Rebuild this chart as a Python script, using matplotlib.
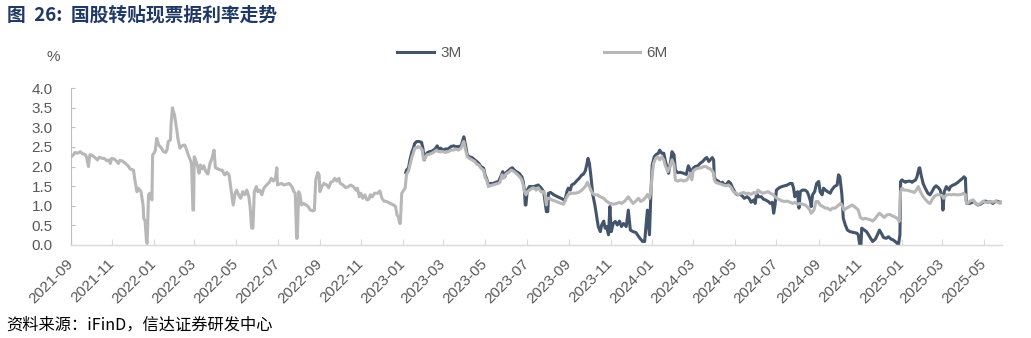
import matplotlib
matplotlib.use("Agg")
import matplotlib.pyplot as plt
import matplotlib.dates as mdates
import pandas as pd

plt.rcParams["font.family"] = ["Liberation Sans", "Noto Sans CJK SC", "DejaVu Sans"]

TITLE = "图  26:  国股转贴现票据利率走势"
SOURCE = "资料来源：iFinD，信达证券研发中心"
Y_UNIT = "%"
SERIES_NAMES = ["3M", "6M"]
Y_TICKS = [0.0, 0.5, 1.0, 1.5, 2.0, 2.5, 3.0, 3.5, 4.0]
X_START = "2021-09-01"
X_END = "2025-05-27"

dates_6m = [
    "2021-09-01", "2021-09-05", "2021-09-07", "2021-09-11", "2021-09-15", "2021-09-18", "2021-09-22", "2021-09-24",
    "2021-09-27", "2021-09-29", "2021-10-01", "2021-10-06", "2021-10-10", "2021-10-13", "2021-10-17", "2021-10-20",
    "2021-10-24", "2021-10-27", "2021-10-29", "2021-10-31", "2021-11-04", "2021-11-07", "2021-11-10", "2021-11-12",
    "2021-11-16", "2021-11-20", "2021-11-24", "2021-11-27", "2021-12-02", "2021-12-04", "2021-12-07", "2021-12-09",
    "2021-12-13", "2021-12-16", "2021-12-17", "2021-12-19", "2021-12-21", "2021-12-22", "2021-12-24", "2021-12-26",
    "2021-12-29", "2021-12-30",
    "2022-01-01", "2022-01-03", "2022-01-05", "2022-01-08", "2022-01-12", "2022-01-15", "2022-01-18", "2022-01-20",
    "2022-01-22", "2022-01-25", "2022-01-26", "2022-01-28", "2022-01-31", "2022-02-03", "2022-02-05", "2022-02-08",
    "2022-02-11", "2022-02-15", "2022-02-17", "2022-02-20", "2022-02-23", "2022-02-25", "2022-02-27", "2022-02-28",
    "2022-03-01", "2022-03-03", "2022-03-06", "2022-03-08", "2022-03-10", "2022-03-13", "2022-03-15", "2022-03-18",
    "2022-03-21", "2022-03-24", "2022-03-27", "2022-03-30", "2022-04-01", "2022-04-05", "2022-04-08", "2022-04-11",
    "2022-04-14", "2022-04-15", "2022-04-18", "2022-04-21", "2022-04-24", "2022-04-27", "2022-04-30", "2022-05-02",
    "2022-05-05", "2022-05-08", "2022-05-11", "2022-05-14", "2022-05-17", "2022-05-20", "2022-05-22", "2022-05-24",
    "2022-05-26", "2022-05-28", "2022-05-31", "2022-06-02", "2022-06-05", "2022-06-08", "2022-06-11", "2022-06-15",
    "2022-06-19", "2022-06-22", "2022-06-25", "2022-06-28", "2022-06-30", "2022-07-01", "2022-07-03", "2022-07-07",
    "2022-07-10", "2022-07-14", "2022-07-18", "2022-07-22", "2022-07-25", "2022-07-27", "2022-07-29", "2022-07-30",
    "2022-08-01", "2022-08-03", "2022-08-05", "2022-08-08", "2022-08-12", "2022-08-15", "2022-08-18", "2022-08-22",
    "2022-08-24", "2022-08-26", "2022-08-29", "2022-08-31", "2022-09-01", "2022-09-04", "2022-09-07", "2022-09-11",
    "2022-09-14", "2022-09-17", "2022-09-20", "2022-09-23", "2022-09-26", "2022-09-29", "2022-10-01", "2022-10-05",
    "2022-10-09", "2022-10-13", "2022-10-16", "2022-10-20", "2022-10-24", "2022-10-26", "2022-10-29", "2022-10-31",
    "2022-11-03", "2022-11-06", "2022-11-09", "2022-11-12", "2022-11-14", "2022-11-17", "2022-11-20", "2022-11-25",
    "2022-11-28", "2022-12-01", "2022-12-04", "2022-12-08", "2022-12-13", "2022-12-18", "2022-12-21", "2022-12-23",
    "2022-12-25", "2022-12-27", "2022-12-28", "2022-12-30",
    "2023-01-02", "2023-01-04", "2023-01-06", "2023-01-09", "2023-01-11", "2023-01-14", "2023-01-16", "2023-01-18",
    "2023-01-21", "2023-01-23", "2023-01-27", "2023-01-29", "2023-01-31", "2023-02-02", "2023-02-05", "2023-02-08",
    "2023-02-12", "2023-02-16", "2023-02-19", "2023-02-22", "2023-02-25", "2023-03-01", "2023-03-04", "2023-03-08",
    "2023-03-12", "2023-03-16", "2023-03-19", "2023-03-23", "2023-03-27", "2023-03-29", "2023-03-31", "2023-04-02",
    "2023-04-05", "2023-04-08", "2023-04-12", "2023-04-16", "2023-04-19", "2023-04-22", "2023-04-25", "2023-04-29",
    "2023-05-01", "2023-05-04", "2023-05-06", "2023-05-08", "2023-05-12", "2023-05-16", "2023-05-20", "2023-05-23",
    "2023-05-26", "2023-05-28", "2023-05-31", "2023-06-02", "2023-06-05", "2023-06-08", "2023-06-11", "2023-06-14",
    "2023-06-18", "2023-06-21", "2023-06-24", "2023-06-26", "2023-06-28", "2023-06-30", "2023-07-02", "2023-07-05",
    "2023-07-09", "2023-07-11", "2023-07-15", "2023-07-18", "2023-07-22", "2023-07-26", "2023-07-28", "2023-07-30",
    "2023-07-31", "2023-08-03", "2023-08-07", "2023-08-12", "2023-08-16", "2023-08-21", "2023-08-24", "2023-08-28",
    "2023-08-31", "2023-09-05", "2023-09-10", "2023-09-15", "2023-09-20", "2023-09-25", "2023-09-28", "2023-10-01",
    "2023-10-04", "2023-10-08", "2023-10-12", "2023-10-17", "2023-10-22", "2023-10-26", "2023-10-31", "2023-11-05",
    "2023-11-10", "2023-11-14", "2023-11-17", "2023-11-22", "2023-11-27", "2023-11-30", "2023-12-04", "2023-12-08",
    "2023-12-12", "2023-12-15", "2023-12-19", "2023-12-23", "2023-12-25", "2023-12-28", "2023-12-30",
    "2024-01-01", "2024-01-03", "2024-01-06", "2024-01-09", "2024-01-12", "2024-01-15", "2024-01-18", "2024-01-20",
    "2024-01-24", "2024-01-27", "2024-01-30", "2024-02-02", "2024-02-04", "2024-02-07", "2024-02-12", "2024-02-16",
    "2024-02-21", "2024-02-25", "2024-02-26", "2024-02-28", "2024-03-01", "2024-03-05", "2024-03-09", "2024-03-13",
    "2024-03-16", "2024-03-20", "2024-03-23", "2024-03-26", "2024-03-29", "2024-03-31", "2024-04-01", "2024-04-03",
    "2024-04-07", "2024-04-11", "2024-04-14", "2024-04-18", "2024-04-22", "2024-04-26", "2024-04-29", "2024-05-03",
    "2024-05-06", "2024-05-10", "2024-05-14", "2024-05-17", "2024-05-21", "2024-05-25", "2024-05-29", "2024-06-01",
    "2024-06-04", "2024-06-07", "2024-06-11", "2024-06-15", "2024-06-19", "2024-06-22", "2024-06-26", "2024-06-29",
    "2024-07-02", "2024-07-06", "2024-07-10", "2024-07-14", "2024-07-17", "2024-07-21", "2024-07-25", "2024-07-28",
    "2024-08-01", "2024-08-04", "2024-08-08", "2024-08-12", "2024-08-15", "2024-08-19", "2024-08-21", "2024-08-25",
    "2024-08-28", "2024-08-31", "2024-09-03", "2024-09-07", "2024-09-11", "2024-09-14", "2024-09-18", "2024-09-21",
    "2024-09-25", "2024-09-29", "2024-10-03", "2024-10-05", "2024-10-08", "2024-10-12", "2024-10-16", "2024-10-20",
    "2024-10-23", "2024-10-26", "2024-10-29", "2024-11-01", "2024-11-05", "2024-11-08", "2024-11-12", "2024-11-16",
    "2024-11-19", "2024-11-23", "2024-11-26", "2024-11-29", "2024-12-03", "2024-12-06", "2024-12-10", "2024-12-14",
    "2024-12-17", "2024-12-21", "2024-12-25", "2024-12-28", "2024-12-30",
    "2025-01-01", "2025-01-04", "2025-01-08", "2025-01-12", "2025-01-16", "2025-01-19", "2025-01-22", "2025-01-25",
    "2025-01-28", "2025-02-01", "2025-02-04", "2025-02-08", "2025-02-11", "2025-02-14", "2025-02-17", "2025-02-21",
    "2025-02-25", "2025-03-01", "2025-03-03", "2025-03-07", "2025-03-11", "2025-03-14", "2025-03-18", "2025-03-22",
    "2025-03-25", "2025-03-29", "2025-04-01", "2025-04-04", "2025-04-05", "2025-04-07", "2025-04-11", "2025-04-15",
    "2025-04-19", "2025-04-22", "2025-04-26", "2025-04-30", "2025-05-03", "2025-05-07", "2025-05-11", "2025-05-14",
    "2025-05-18", "2025-05-21", "2025-05-25", "2025-05-27",
]
rate_6m = [
    2.24, 2.30, 2.36, 2.34, 2.38, 2.33, 2.31, 2.25,
    2.00, 2.30, 2.30, 2.24, 2.17, 2.24, 2.21, 2.21,
    2.15, 2.17, 2.08, 2.21, 2.19, 2.14, 2.08, 2.16,
    2.14, 2.08, 2.02, 1.94, 1.91, 1.66, 1.36, 1.45,
    1.36, 1.02, 0.68, 0.61, 0.09, 0.04, 1.28, 1.32,
    1.15, 2.30,
    2.34, 2.42, 2.72, 2.55, 2.47, 2.38, 2.36, 2.42,
    2.64, 2.68, 3.06, 3.50, 3.32, 2.98, 2.72, 2.47,
    2.53, 2.55, 2.47, 2.31, 2.17, 2.08, 0.89, 0.89,
    2.25, 2.17, 2.00, 1.83, 2.04, 1.94, 2.02, 1.87,
    1.81, 2.08, 2.21, 2.42, 1.97, 1.94, 1.91, 1.91,
    1.80, 1.79, 1.85, 1.79, 1.40, 1.02, 1.32, 1.40,
    1.28, 1.19, 1.36, 1.28, 1.40, 1.23, 0.94, 0.43,
    0.43, 1.36, 1.49, 1.36, 1.40, 1.28, 1.45, 1.53,
    1.60, 1.70, 1.63, 1.70, 1.97, 1.53, 1.55, 1.57,
    1.53, 1.55, 1.57, 1.49, 1.36, 1.32, 0.17, 0.17,
    1.36, 1.28, 1.02, 1.06, 1.02, 0.98, 0.89, 0.87,
    0.89, 1.66, 1.85, 1.79, 1.36, 1.49, 1.57, 1.53,
    1.46, 1.60, 1.62, 1.70, 1.63, 1.70, 1.57, 1.53,
    1.46, 1.49, 1.53, 1.49, 1.40, 1.45, 1.23, 1.32,
    1.19, 1.28, 1.15, 1.17, 1.28, 1.23, 1.32, 1.32,
    1.38, 1.19, 1.12, 1.11, 1.06, 1.02, 0.98, 0.77,
    0.72, 0.55, 0.55, 1.32,
    1.40, 1.45, 1.80, 1.89, 2.04, 2.25, 2.34, 2.47,
    2.48, 2.51, 2.48, 2.42, 2.17, 2.21, 2.30, 2.31,
    2.34, 2.38, 2.42, 2.38, 2.38, 2.38, 2.36, 2.38,
    2.42, 2.42, 2.45, 2.42, 2.47, 2.57, 2.64, 2.47,
    2.25, 2.21, 2.17, 2.13, 2.06, 2.04, 1.96, 1.91,
    1.74, 1.63, 1.49, 1.51, 1.53, 1.55, 1.57, 1.60,
    1.79, 1.70, 1.79, 1.83, 1.85, 1.91, 1.89, 1.85,
    1.79, 1.74, 1.66, 1.53, 1.36, 1.28, 1.36, 1.40,
    1.45, 1.46, 1.40, 1.46, 1.36, 1.36, 1.28, 1.02,
    1.19, 1.19, 1.15, 1.12, 1.09, 1.06, 1.04, 1.19,
    1.29, 1.32, 1.32, 1.34, 1.40, 1.49, 1.60, 1.49,
    1.36, 1.28, 1.28, 1.23, 1.19, 1.12, 1.06, 1.04,
    1.06, 1.09, 1.06, 1.12, 1.23, 1.15, 1.06, 1.12,
    1.19, 1.11, 1.15, 1.23, 1.29, 1.19, 1.36,
    1.79, 2.08, 2.21, 2.25, 2.17, 2.25, 2.17, 2.04,
    1.87, 2.00, 2.17, 2.04, 1.66, 1.63, 1.66, 1.63,
    1.66, 1.79, 1.83, 1.66, 1.89, 1.94, 1.96, 1.97,
    2.00, 2.00, 1.96, 1.94, 1.89, 1.83, 1.66, 1.60,
    1.57, 1.55, 1.53, 1.51, 1.53, 1.46, 1.36, 1.32,
    1.28, 1.32, 1.34, 1.31, 1.32, 1.29, 1.34, 1.31,
    1.40, 1.36, 1.32, 1.34, 1.36, 1.32, 1.29, 1.23,
    1.19, 1.15, 1.12, 1.11, 1.12, 1.09, 1.06, 1.09,
    1.04, 1.06, 1.04, 1.02, 0.98, 0.89, 0.81, 0.89,
    1.11, 1.11, 1.02, 0.98, 0.94, 0.94, 0.89, 0.94,
    0.94, 1.00, 1.06, 1.02, 0.89, 0.94, 0.98, 1.02,
    0.98, 0.94, 0.89, 0.70, 0.66, 0.68, 0.66, 0.64,
    0.61, 0.68, 0.75, 0.81, 0.75, 0.70, 0.77, 0.78,
    0.75, 0.72, 0.68, 0.60, 1.36,
    1.45, 1.40, 1.40, 1.38, 1.36, 1.34, 1.40, 1.49,
    1.36, 1.23, 1.17, 1.09, 1.06, 1.15, 1.23, 1.28,
    1.28, 1.26, 1.19, 1.28, 1.29, 1.28, 1.29, 1.28,
    1.28, 1.29, 1.32, 1.28, 1.09, 1.06, 1.12, 1.15,
    1.06, 1.02, 1.06, 1.12, 1.09, 1.09, 1.11, 1.09,
    1.12, 1.09, 1.06, 1.09,
]

dates_3m = [
    "2023-01-05", "2023-01-06", "2023-01-09", "2023-01-11", "2023-01-14", "2023-01-16", "2023-01-18", "2023-01-21",
    "2023-01-24", "2023-01-28", "2023-01-30", "2023-02-01", "2023-02-03", "2023-02-06", "2023-02-09", "2023-02-13",
    "2023-02-17", "2023-02-20", "2023-02-22", "2023-02-25", "2023-03-01", "2023-03-04", "2023-03-08", "2023-03-12",
    "2023-03-16", "2023-03-19", "2023-03-23", "2023-03-27", "2023-03-29", "2023-03-31", "2023-04-02", "2023-04-05",
    "2023-04-08", "2023-04-12", "2023-04-16", "2023-04-19", "2023-04-22", "2023-04-25", "2023-04-29", "2023-05-01",
    "2023-05-04", "2023-05-06", "2023-05-10", "2023-05-13", "2023-05-17", "2023-05-21", "2023-05-25", "2023-05-27",
    "2023-05-30", "2023-06-01", "2023-06-04", "2023-06-07", "2023-06-10", "2023-06-13", "2023-06-16", "2023-06-20",
    "2023-06-24", "2023-06-26", "2023-06-28", "2023-06-29", "2023-06-30", "2023-07-02", "2023-07-05", "2023-07-09",
    "2023-07-11", "2023-07-15", "2023-07-18", "2023-07-22", "2023-07-26", "2023-07-28", "2023-07-30", "2023-08-01",
    "2023-08-02", "2023-08-05", "2023-08-09", "2023-08-13", "2023-08-18", "2023-08-23", "2023-08-26", "2023-08-29",
    "2023-08-31", "2023-09-03", "2023-09-05", "2023-09-09", "2023-09-12", "2023-09-16", "2023-09-20", "2023-09-22",
    "2023-09-25", "2023-09-27", "2023-09-29", "2023-10-01", "2023-10-03", "2023-10-06", "2023-10-09", "2023-10-12",
    "2023-10-14", "2023-10-17", "2023-10-19", "2023-10-22", "2023-10-24", "2023-10-26", "2023-10-29", "2023-10-31",
    "2023-11-02", "2023-11-05", "2023-11-08", "2023-11-11", "2023-11-14", "2023-11-17", "2023-11-20", "2023-11-24",
    "2023-11-27", "2023-11-30", "2023-12-04", "2023-12-08", "2023-12-10", "2023-12-14", "2023-12-18", "2023-12-21",
    "2023-12-23", "2023-12-25", "2023-12-27", "2023-12-28", "2023-12-30",
    "2024-01-01", "2024-01-04", "2024-01-07", "2024-01-10", "2024-01-12", "2024-01-15", "2024-01-18", "2024-01-20",
    "2024-01-23", "2024-01-25", "2024-01-28", "2024-01-30", "2024-02-02", "2024-02-04", "2024-02-07", "2024-02-12",
    "2024-02-16", "2024-02-20", "2024-02-23", "2024-02-25", "2024-02-26", "2024-02-28", "2024-03-01", "2024-03-04",
    "2024-03-08", "2024-03-11", "2024-03-15", "2024-03-19", "2024-03-21", "2024-03-24", "2024-03-26", "2024-03-29",
    "2024-03-31", "2024-04-01", "2024-04-03", "2024-04-07", "2024-04-10", "2024-04-13", "2024-04-16", "2024-04-19",
    "2024-04-22", "2024-04-25", "2024-04-28", "2024-05-02", "2024-05-05", "2024-05-09", "2024-05-12", "2024-05-15",
    "2024-05-19", "2024-05-22", "2024-05-25", "2024-05-29", "2024-05-31", "2024-06-02", "2024-06-05", "2024-06-09",
    "2024-06-12", "2024-06-15", "2024-06-19", "2024-06-22", "2024-06-25", "2024-06-27", "2024-06-29", "2024-07-01",
    "2024-07-05", "2024-07-09", "2024-07-13", "2024-07-17", "2024-07-21", "2024-07-24", "2024-07-26", "2024-07-28",
    "2024-07-30", "2024-08-01", "2024-08-03", "2024-08-05", "2024-08-08", "2024-08-12", "2024-08-15", "2024-08-17",
    "2024-08-20", "2024-08-21", "2024-08-23", "2024-08-26", "2024-08-29", "2024-09-01", "2024-09-03", "2024-09-06",
    "2024-09-08", "2024-09-11", "2024-09-14", "2024-09-18", "2024-09-20", "2024-09-24", "2024-09-28", "2024-09-30",
    "2024-10-02", "2024-10-05", "2024-10-07", "2024-10-10", "2024-10-13", "2024-10-17", "2024-10-22", "2024-10-27",
    "2024-10-29", "2024-10-31", "2024-11-02", "2024-11-03", "2024-11-07", "2024-11-10", "2024-11-13", "2024-11-16",
    "2024-11-19", "2024-11-23", "2024-11-26", "2024-11-29", "2024-12-03", "2024-12-05", "2024-12-09", "2024-12-12",
    "2024-12-16", "2024-12-19", "2024-12-22", "2024-12-25", "2024-12-27", "2024-12-29", "2024-12-30",
    "2025-01-01", "2025-01-03", "2025-01-06", "2025-01-08", "2025-01-12", "2025-01-16", "2025-01-18", "2025-01-21",
    "2025-01-23", "2025-01-26", "2025-01-27", "2025-01-29", "2025-02-01", "2025-02-04", "2025-02-08", "2025-02-11",
    "2025-02-14", "2025-02-17", "2025-02-20", "2025-02-24", "2025-02-26", "2025-03-01", "2025-03-02", "2025-03-04",
    "2025-03-07", "2025-03-11", "2025-03-13", "2025-03-17", "2025-03-20", "2025-03-24", "2025-03-28", "2025-04-01",
    "2025-04-02", "2025-04-04", "2025-04-05", "2025-04-06", "2025-04-10", "2025-04-14", "2025-04-16", "2025-04-19",
    "2025-04-22", "2025-04-26", "2025-04-30", "2025-05-03", "2025-05-07", "2025-05-11", "2025-05-14", "2025-05-18",
    "2025-05-20", "2025-05-24", "2025-05-27",
]
rate_3m = [
    1.85, 1.91, 1.97, 2.17, 2.38, 2.47, 2.59, 2.64,
    2.64, 2.62, 2.47, 2.17, 2.30, 2.36, 2.38, 2.40,
    2.45, 2.53, 2.45, 2.47, 2.42, 2.45, 2.45, 2.51,
    2.53, 2.51, 2.51, 2.53, 2.64, 2.76, 2.59, 2.30,
    2.25, 2.23, 2.17, 2.13, 2.08, 2.00, 1.96, 1.79,
    1.66, 1.55, 1.57, 1.57, 1.60, 1.62, 1.79, 1.87,
    1.74, 1.85, 1.89, 1.94, 1.97, 1.91, 1.87, 1.83,
    1.74, 1.62, 1.36, 1.02, 1.02, 1.40, 1.49, 1.49,
    1.49, 1.51, 1.53, 1.46, 1.36, 1.11, 0.85, 0.85,
    1.32, 1.34, 1.29, 1.25, 1.21, 1.17, 1.12, 1.36,
    1.45, 1.40, 1.53, 1.57, 1.63, 1.70, 1.79, 1.80,
    1.89, 2.04, 2.21, 2.08, 1.79, 1.28, 1.02, 0.68,
    0.47, 0.34, 0.51, 0.61, 0.43, 0.47, 0.26, 0.98,
    0.34, 0.55, 0.60, 0.51, 0.61, 0.47, 0.55, 0.47,
    0.89, 0.38, 0.34, 0.32, 0.27, 0.17, 0.09, 0.09,
    0.51, 0.89, 0.43, 0.26, 1.28,
    2.04, 2.25, 2.31, 2.34, 2.42, 2.34, 2.34, 2.17,
    1.96, 1.83, 2.13, 2.38, 2.30, 1.91, 1.85, 1.85,
    1.83, 1.80, 2.02, 1.94, 1.91, 1.74, 1.96, 2.00,
    2.02, 2.08, 2.13, 2.21, 2.23, 2.13, 2.17, 2.23,
    2.17, 1.74, 1.66, 1.63, 1.57, 1.60, 1.53, 1.55,
    1.62, 1.57, 1.45, 1.32, 1.28, 1.29, 1.25, 1.19,
    1.23, 1.19, 1.09, 1.15, 1.06, 1.32, 1.23, 1.23,
    1.17, 1.15, 1.11, 1.06, 1.09, 0.81, 1.02, 1.40,
    1.46, 1.49, 1.51, 1.53, 1.57, 1.57, 1.46, 1.23,
    1.32, 1.36, 0.94, 1.36, 1.40, 1.40, 1.36, 1.28,
    1.11, 0.98, 1.28, 1.36, 1.57, 1.62, 1.36, 1.28,
    1.45, 1.40, 1.36, 1.32, 1.40, 1.49, 1.53, 1.79,
    1.74, 1.28, 0.68, 0.51, 0.38, 0.34, 0.32, 0.30,
    0.26, 0.02, 0.02, 0.43, 0.38, 0.34, 0.26, 0.17,
    0.09, 0.15, 0.26, 0.38, 0.26, 0.19, 0.17, 0.21,
    0.15, 0.13, 0.09, 0.04, 0.02, 0.26, 1.62,
    1.66, 1.63, 1.60, 1.62, 1.63, 1.60, 1.63, 1.66,
    1.74, 1.96, 1.97, 1.79, 1.57, 1.45, 1.32, 1.28,
    1.36, 1.46, 1.51, 1.45, 1.40, 1.19, 0.89, 1.36,
    1.49, 1.40, 1.49, 1.53, 1.55, 1.60, 1.66, 1.72,
    1.74, 1.70, 1.19, 1.06, 1.06, 1.09, 1.12, 1.06,
    1.02, 1.04, 1.09, 1.12, 1.09, 1.11, 1.06, 1.11,
    1.12, 1.09, 1.09,
]

COLOR_3M = "#44546a"
COLOR_6M = "#b7b7b7"
TEXT_GRAY = "#595959"

fig = plt.figure(figsize=(10.31, 3.38), dpi=100)
ax = fig.add_axes([0.0686, 0.2752, 0.9029, 0.4639])

l3, = ax.plot(pd.to_datetime(dates_3m), rate_3m, color=COLOR_3M, lw=2.2,
              solid_joinstyle="round", label=SERIES_NAMES[0], zorder=2)
l6, = ax.plot(pd.to_datetime(dates_6m), rate_6m, color=COLOR_6M, lw=2.2,
              solid_joinstyle="round", label=SERIES_NAMES[1], zorder=3)

ax.set_ylim(0, 4)
ax.set_yticks(Y_TICKS)
ax.yaxis.set_major_formatter(matplotlib.ticker.FormatStrFormatter("%.1f"))
ax.set_xlim(pd.Timestamp(X_START), pd.Timestamp(X_END))
ax.xaxis.set_major_locator(mdates.MonthLocator(bymonth=[1, 3, 5, 7, 9, 11]))
ax.xaxis.set_major_formatter(mdates.DateFormatter("%Y-%m"))

for s in ["top", "right"]:
    ax.spines[s].set_visible(False)
ax.spines["left"].set_color("#bfbfbf")
ax.spines["left"].set_linewidth(0.8)
ax.spines["bottom"].set_color("#d9d9d9")
ax.spines["bottom"].set_linewidth(1.0)

ax.tick_params(axis="y", direction="in", length=3, color="#bfbfbf",
               labelsize=11, labelcolor=TEXT_GRAY, pad=13)
ax.tick_params(axis="x", direction="in", length=4, color="#d9d9d9",
               labelsize=11, labelcolor=TEXT_GRAY, pad=12)
for lab in ax.get_xticklabels():
    lab.set_rotation(45)
    lab.set_ha("right")
    lab.set_va("center")
    lab.set_rotation_mode("anchor")

leg = fig.legend(handles=[l3, l6], labels=SERIES_NAMES, loc="center",
                 bbox_to_anchor=(0.5165, 0.843), ncol=2, frameon=False,
                 handlelength=2.4, handletextpad=0.4, columnspacing=9.3,
                 fontsize=11)
for t in leg.get_texts():
    t.set_color(TEXT_GRAY)

fig.text(53 / 1031, 1 - 57 / 338, Y_UNIT, ha="center", va="center",
         fontsize=11, color=TEXT_GRAY)
fig.text(7 / 1031, 1 - 15 / 338, TITLE, ha="left", va="center",
         fontsize=13.5, fontweight="bold", color="#1f3864",
         family=["Noto Sans CJK SC", "DejaVu Sans"])
fig.text(6 / 1031, 1 - 325 / 338, SOURCE, ha="left", va="center",
         fontsize=11.7, color="#000000",
         family=["Noto Sans CJK SC", "DejaVu Sans"])

fig.savefig("out.png", dpi=100)
